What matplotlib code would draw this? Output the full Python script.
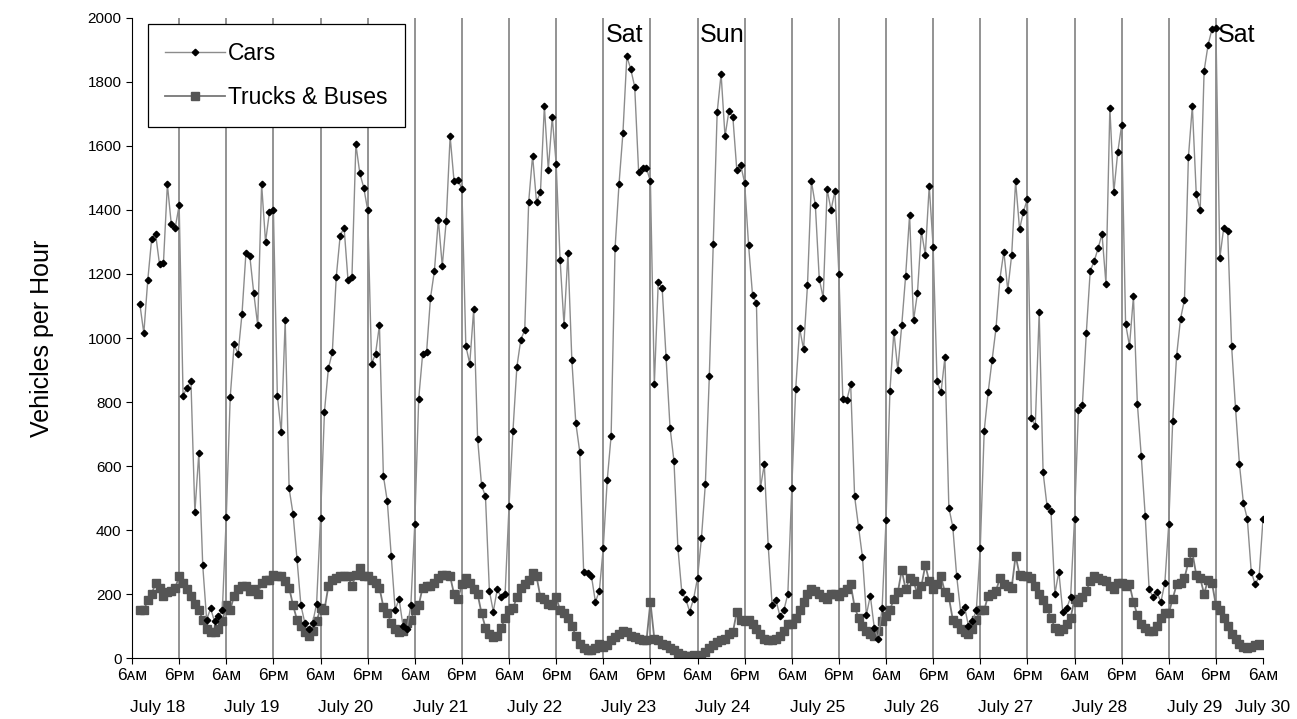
import numpy as np
import matplotlib.pyplot as plt
from matplotlib import transforms

plt.rcParams['font.family'] = ['Liberation Sans', 'DejaVu Sans']

# Hourly counts, 8AM July 18 through 6AM July 30 (one row per day, 6AM..5AM)
cars = [
    1105, 1015, 1180, 1310, 1325, 1230, 1235, 1480, 1355, 1345, 1415, 820, 845, 865, 455, 640, 290, 120, 155, 115, 130, 150,
    440, 815, 980, 950, 1075, 1265, 1255, 1140, 1040, 1480, 1300, 1395, 1400, 820, 705, 1055, 530, 450, 310, 165, 110, 90, 110, 170,
    437, 770, 905, 955, 1190, 1320, 1345, 1180, 1190, 1605, 1515, 1470, 1400, 920, 950, 1040, 570, 490, 320, 150, 185, 100, 90, 165,
    420, 810, 950, 955, 1125, 1210, 1370, 1225, 1365, 1630, 1490, 1495, 1465, 975, 920, 1090, 685, 540, 505, 210, 145, 215, 190, 200,
    475, 710, 910, 995, 1025, 1425, 1570, 1425, 1455, 1725, 1525, 1690, 1545, 1245, 1040, 1265, 930, 735, 645, 270, 265, 255, 175, 210,
    345, 555, 695, 1280, 1480, 1640, 1880, 1840, 1785, 1520, 1530, 1530, 1490, 855, 1175, 1155, 940, 720, 615, 345, 205, 185, 145, 185,
    250, 375, 545, 880, 1295, 1705, 1825, 1630, 1710, 1690, 1525, 1540, 1485, 1290, 1135, 1110, 530, 605, 350, 165, 180, 130, 150, 200,
    530, 840, 1030, 965, 1165, 1490, 1415, 1185, 1125, 1465, 1400, 1460, 1200, 810, 805, 855, 505, 410, 315, 135, 195, 95, 60, 155,
    430, 835, 1020, 900, 1040, 1195, 1385, 1055, 1140, 1335, 1260, 1475, 1285, 865, 830, 940, 470, 410, 255, 145, 160, 100, 115, 150,
    345, 710, 830, 930, 1030, 1185, 1270, 1150, 1260, 1490, 1340, 1395, 1435, 750, 725, 1080, 580, 475, 460, 200, 270, 145, 155, 190,
    435, 775, 790, 1015, 1210, 1240, 1280, 1325, 1170, 1720, 1455, 1580, 1665, 1045, 975, 1130, 795, 630, 445, 215, 190, 205, 175, 235,
    420, 740, 945, 1060, 1120, 1565, 1725, 1450, 1400, 1835, 1915, 1965, 1970, 1250, 1345, 1335, 975, 780, 605, 485, 435, 270, 230, 255,
    435,
]
trucks = [
    150, 150, 180, 200, 235, 220, 195, 205, 210, 220, 255, 235, 215, 195, 170, 150, 120, 90, 80, 80, 90, 115,
    165, 150, 195, 215, 225, 225, 210, 215, 200, 235, 245, 245, 260, 255, 255, 240, 220, 165, 120, 100, 80, 70, 85, 115,
    155, 150, 225, 245, 250, 255, 255, 255, 225, 260, 280, 255, 255, 245, 235, 220, 160, 140, 110, 90, 80, 85, 110, 120,
    150, 165, 220, 225, 225, 235, 250, 260, 260, 255, 200, 185, 230, 250, 235, 215, 200, 140, 95, 75, 65, 70, 95, 125,
    150, 155, 190, 220, 230, 245, 265, 255, 190, 185, 170, 165, 190, 150, 140, 125, 100, 70, 45, 30, 25, 25, 30, 45,
    35, 40, 55, 65, 75, 85, 80, 70, 65, 60, 55, 55, 175, 60, 55, 45, 40, 30, 25, 15, 10, 5, 5, 10,
    5, 10, 20, 30, 40, 50, 55, 60, 75, 80, 145, 120, 115, 120, 105, 90, 75, 60, 55, 55, 60, 70, 85, 105,
    105, 125, 150, 175, 200, 215, 210, 200, 190, 185, 200, 200, 195, 205, 215, 230, 160, 125, 100, 85, 75, 70, 85, 115,
    130, 150, 185, 205, 275, 215, 250, 240, 200, 225, 290, 240, 215, 230, 255, 205, 190, 120, 110, 90, 80, 75, 90, 120,
    150, 150, 195, 200, 210, 250, 230, 225, 220, 320, 260, 255, 255, 250, 225, 200, 180, 155, 125, 95, 85, 90, 105, 125,
    185, 175, 190, 210, 240, 255, 250, 245, 240, 225, 215, 235, 235, 225, 230, 175, 135, 105, 95, 85, 85, 100, 125, 140,
    140, 185, 230, 235, 250, 300, 330, 260, 250, 200, 245, 235, 165, 150, 125, 100, 75, 60, 45, 35, 30, 35, 40, 45,
    40,
]
hours = np.arange(2, 2 + len(cars))  # hours after 6AM July 18

day_names = ['July 18', 'July 19', 'July 20', 'July 21', 'July 22', 'July 23', 'July 24',
             'July 25', 'July 26', 'July 27', 'July 28', 'July 29', 'July 30']
half_day_labels = ['6\u1d00\u1d0d', '6\u1d18\u1d0d']
weekend_marks = [(120, 'Sat'), (144, 'Sun'), (276, 'Sat')]

fig = plt.figure(figsize=(12.97, 7.19), dpi=100)
ax = fig.add_axes([0.1018, 0.0848, 0.872, 0.8902])

# 12-hour grid lines
for h in range(12, 288, 12):
    ax.axvline(h, color='#8a8a8a', lw=1.3, zorder=1)

tr, = ax.plot(hours, trucks, color='#777777', lw=1.3, marker='s', ms=6.2,
              mfc='#555555', mec='#555555', zorder=2, label='Trucks & Buses')
cr, = ax.plot(hours, cars, color='#8c8c8c', lw=1.0, marker='D', ms=3.3,
              mfc='black', mec='black', zorder=3, label='Cars')

ax.set_xlim(0, 288)
ax.set_ylim(0, 2000)
ax.set_yticks(np.arange(0, 2001, 200))
ax.tick_params(axis='y', labelsize=11, length=4)
ax.set_xticks(np.arange(0, 289, 12))
ax.set_xticklabels([half_day_labels[i % 2] for i in range(25)], fontsize=12.5)
ax.tick_params(axis='x', length=4, pad=3)
for side in ['top', 'right']:
    ax.spines[side].set_visible(False)

# date row under the time labels
trans = transforms.blended_transform_factory(ax.transData, ax.transAxes)
for i, name in enumerate(day_names):
    xpos = 24 * i + 6.5 if i < len(day_names) - 1 else 288
    ax.text(xpos, -0.077, name, transform=trans, ha='center', va='center', fontsize=12.5)

for h, txt in weekend_marks:
    ax.text(h + 0.6, 1985, txt, ha='left', va='top', fontsize=18)

ax.set_ylabel('Vehicles per Hour', fontsize=18, labelpad=24)

leg = ax.legend(handles=[cr, tr], loc='upper left', bbox_to_anchor=(0.014, 0.99),
                fontsize=16.5, frameon=True, fancybox=False, edgecolor='black',
                framealpha=1, borderaxespad=0, handlelength=2.6, handletextpad=0.15,
                labelspacing=0.95, borderpad=0.75)
leg.get_frame().set_linewidth(0.9)

fig.savefig('out.png', dpi=100)
